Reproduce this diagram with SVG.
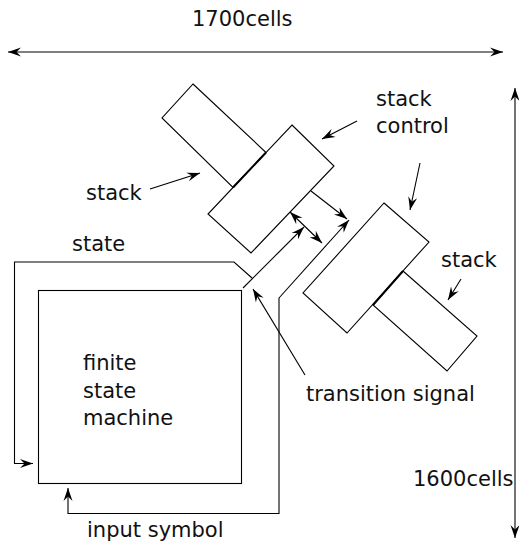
<svg xmlns="http://www.w3.org/2000/svg" width="519" height="547" viewBox="0 0 519 547">
  <style>
    .box { fill: #fff; stroke: #000; stroke-width: 1.1; }
    .wire { fill: none; stroke: #000; stroke-width: 1.1; }
    .seam { fill: none; stroke: #000; stroke-width: 2; }
    .lbl { font-family: "DejaVu Sans", Verdana, sans-serif; font-size: 21px; fill: #111; }
  </style>
  <defs>
    <marker id="head" markerUnits="userSpaceOnUse" markerWidth="16" markerHeight="12" viewBox="-14 -6 16 12" refX="0" refY="0" orient="auto-start-reverse">
      <path d="M0,0 L-13,-4.5 L-8.5,0 L-13,4.5 Z" fill="#000"/>
    </marker>
  </defs>

  <rect width="519" height="547" fill="#fff"/>

  <!-- dimension arrows -->
  <g id="dimensions">
    <path class="wire" d="M8,52 L503,52" marker-start="url(#head)" marker-end="url(#head)"/>
    <path class="wire" d="M515,88 L515,538" marker-start="url(#head)" marker-end="url(#head)"/>
    <text class="lbl" x="192" y="26">1700cells</text>
    <text class="lbl" x="413" y="486">1600cells</text>
  </g>

  <!-- upper-left stack -->
  <g id="stack-left">
    <polygon class="box" points="193,84 266,152.5 233,187.5 162,118"/>
  </g>

  <!-- left stack control -->
  <g id="control-left">
    <polygon class="box" points="292,125 334,166 251,253 208,214"/>
    <path class="seam" d="M266,152.5 L233,187.5"/>
  </g>

  <!-- lower-right stack -->
  <g id="stack-right">
    <polygon class="box" points="403,271 477,336 447,371 373,305"/>
  </g>

  <!-- right stack control -->
  <g id="control-right">
    <polygon class="box" points="384,203 429,242 347,333 303,293"/>
    <path class="seam" d="M403,271 L373,305"/>
  </g>

  <!-- finite state machine -->
  <g id="fsm">
    <rect class="box" x="38.5" y="290.5" width="203" height="193"/>
    <text class="lbl" x="83" y="370">finite</text>
    <text class="lbl" x="83" y="398">state</text>
    <text class="lbl" x="83" y="425">machine</text>
  </g>

  <!-- connectors -->
  <g id="connectors">
    <!-- state feedback -->
    <path class="wire" d="M252,278 L234,262 L14.5,262 L14.5,463.5 L33,463.5" marker-end="url(#head)"/>
    <!-- input symbol path -->
    <path class="wire" d="M279,298 L279,513.5 L68,513.5 L68,488" marker-end="url(#head)"/>
    <path class="wire" d="M279,298 L349,220" marker-end="url(#head)"/>
    <path class="wire" d="M311,191 L347,219" marker-end="url(#head)"/>
    <!-- fsm to left control -->
    <path class="wire" d="M243,288 L304,227" marker-end="url(#head)"/>
    <!-- between controls -->
    <path class="wire" d="M290,212 L322,243" marker-start="url(#head)" marker-end="url(#head)"/>
    <!-- label pointers -->
    <path class="wire" d="M305,375 L253,289" marker-end="url(#head)"/>
    <path class="wire" d="M357,121 L322,139" marker-end="url(#head)"/>
    <path class="wire" d="M150,189 L200,173" marker-end="url(#head)"/>
    <path class="wire" d="M420,163 L410,210" marker-end="url(#head)"/>
    <path class="wire" d="M461,279 L448,300" marker-end="url(#head)"/>
  </g>

  <!-- labels -->
  <g id="labels">
    <text class="lbl" x="376" y="106">stack</text>
    <text class="lbl" x="376" y="133">control</text>
    <text class="lbl" x="86" y="200">stack</text>
    <text class="lbl" x="72" y="251">state</text>
    <text class="lbl" x="441" y="267">stack</text>
    <text class="lbl" x="306" y="401">transition signal</text>
    <text class="lbl" x="87" y="537">input symbol</text>
  </g>
</svg>
